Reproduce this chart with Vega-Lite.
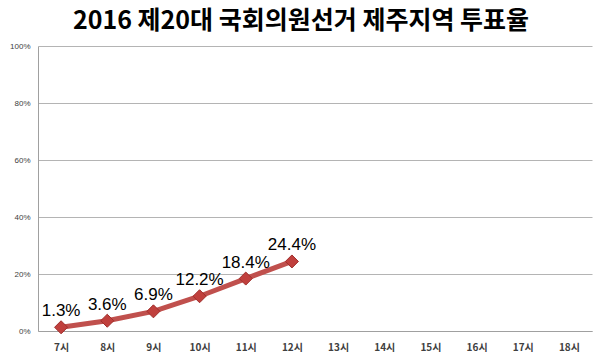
{
  "$schema": "https://vega.github.io/schema/vega-lite/v6.json",
  "width": 554,
  "height": 285,
  "autosize": "none",
  "padding": {"left": 38, "top": 46, "right": 8, "bottom": 29},
  "background": "white",
  "title": {
    "text": "2016 제20대 국회의원선거 제주지역 투표율",
    "font": "Noto Sans CJK KR",
    "fontSize": 25,
    "fontWeight": "bold",
    "color": "#000000",
    "anchor": "middle",
    "dx": -14,
    "offset": 8
  },
  "data": {
    "values": [
      {"hour": "7시", "rate": 0.013, "label": "1.3%"},
      {"hour": "8시", "rate": 0.036, "label": "3.6%"},
      {"hour": "9시", "rate": 0.069, "label": "6.9%"},
      {"hour": "10시", "rate": 0.122, "label": "12.2%"},
      {"hour": "11시", "rate": 0.184, "label": "18.4%"},
      {"hour": "12시", "rate": 0.244, "label": "24.4%"}
    ]
  },
  "encoding": {
    "x": {
      "field": "hour",
      "type": "ordinal",
      "sort": null,
      "scale": {"type": "point", "padding": 0.5, "domain": ["7시","8시","9시","10시","11시","12시","13시","14시","15시","16시","17시","18시"]},
      "axis": {
        "title": null,
        "labelAngle": 0,
        "labelFont": "Noto Sans CJK KR",
        "labelFontSize": 10,
        "labelFontWeight": "bold",
        "labelColor": "#404040",
        "labelPadding": 11,
        "domainColor": "#a0a0a0",
        "ticks": false,
        "grid": false
      }
    },
    "y": {
      "field": "rate",
      "type": "quantitative",
      "scale": {"domain": [0, 1], "nice": false},
      "axis": {
        "title": null,
        "values": [0, 0.2, 0.4, 0.6, 0.8, 1],
        "format": ".0%",
        "labelFont": "Liberation Sans",
        "labelFontSize": 8,
        "labelColor": "#404040",
        "labelPadding": 8,
        "ticks": false,
        "domainColor": "#a0a0a0",
        "gridColor": "#b4b4b4",
        "gridWidth": 1
      }
    }
  },
  "layer": [
    {
      "mark": {"type": "line", "color": "#c0504d", "strokeWidth": 5}
    },
    {
      "mark": {"type": "point", "shape": "diamond", "filled": true, "size": 170, "color": "#c0403d", "stroke": "#a02e2b", "strokeWidth": 1, "opacity": 1}
    },
    {
      "mark": {"type": "text", "dy": -16, "font": "Liberation Sans", "fontSize": 17, "color": "#000000"},
      "encoding": {"text": {"field": "label"}}
    }
  ],
  "config": {
    "view": {"stroke": null}
  }
}
